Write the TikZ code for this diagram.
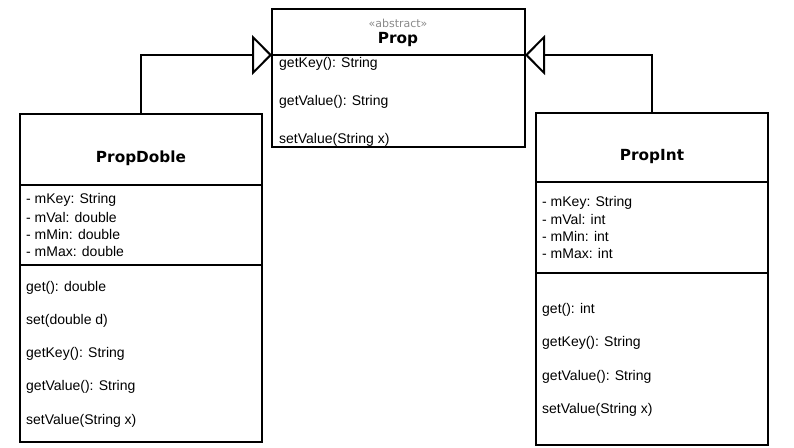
\documentclass[tikz,border=0pt]{standalone}
\usepackage{fontspec}
\setmainfont{Liberation Sans}
\newfontfamily\dvs{DejaVu Sans}
\usetikzlibrary{arrows.meta}
\definecolor{stereo}{HTML}{8A8A8A}
\tikzset{
  box/.style={draw=black, line width=2pt, fill=white, inner sep=0pt, outer sep=0pt, anchor=north west},
  divider/.style={draw=black, line width=2pt},
  txt/.style={inner sep=0pt, anchor=west, font=\fontsize{14}{16}\selectfont},
  title/.style={inner sep=0pt, font=\fontsize{15.3}{18}\selectfont\dvs\bfseries},
  stereotype/.style={inner sep=0pt, text=stereo, font=\fontsize{11}{13}\selectfont\dvs},
  inherit/.style={draw=black, line width=2pt, -{Triangle[open, length=20pt, width=40pt, fill=white]}},
}
\begin{document}
\begin{tikzpicture}[x=1pt, y=1pt]
\useasboundingbox (0,0) rectangle (794,-447);

% Prop (abstract)
\node[box, minimum width=253, minimum height=138] (prop) at (272,-9) {};
\coordinate (pdl) at (272,-55);
\coordinate (pdr) at (525,-55);
\draw[divider] (pdl) -- (pdr);
\node[stereotype] (pst) at (398,-23) {«abstract»};
\node[title] (ptitle) at (398,-40) {Prop};
\node[txt] (pm1) at (279,-63.5) {getKey(): String};
\node[txt] (pm2) at (279,-101.5) {getValue(): String};
\node[txt] (pm3) at (279,-139.5) {setValue(String x)};

% PropDoble
\node[box, minimum width=242, minimum height=328] (dob) at (20,-114) {};
\coordinate (dd1l) at (20,-185);
\coordinate (dd1r) at (262,-185);
\coordinate (dd2l) at (20,-265);
\coordinate (dd2r) at (262,-265);
\draw[divider] (dd1l) -- (dd1r);
\draw[divider] (dd2l) -- (dd2r);
\node[title] (dtitle) at (141,-158) {PropDoble};
\node[txt] (da1) at (26,-200) {- mKey: String};
\node[txt] (da2) at (26,-217) {- mVal: double};
\node[txt] (da3) at (26,-234) {- mMin: double};
\node[txt] (da4) at (26,-251) {- mMax: double};
\node[txt] (dm1) at (26,-288) {get(): double};
\node[txt] (dm2) at (26,-321) {set(double d)};
\node[txt] (dm3) at (26,-354) {getKey(): String};
\node[txt] (dm4) at (26,-387) {getValue(): String};
\node[txt] (dm5) at (26,-421) {setValue(String x)};

% PropInt
\node[box, minimum width=232, minimum height=332] (pint) at (536,-113) {};
\coordinate (di1l) at (536,-182);
\coordinate (di1r) at (768,-182);
\coordinate (di2l) at (536,-273);
\coordinate (di2r) at (768,-273);
\draw[divider] (di1l) -- (di1r);
\draw[divider] (di2l) -- (di2r);
\node[title] (ititle) at (652,-157) {PropInt};
\node[txt] (ia1) at (542,-203) {- mKey: String};
\node[txt] (ia2) at (542,-219) {- mVal: int};
\node[txt] (ia3) at (542,-236) {- mMin: int};
\node[txt] (ia4) at (542,-253) {- mMax: int};
\node[txt] (im1) at (542,-310) {get(): int};
\node[txt] (im2) at (542,-343) {getKey(): String};
\node[txt] (im3) at (542,-377) {getValue(): String};
\node[txt] (im4) at (542,-410) {setValue(String x)};

% Generalisation connectors
\draw[inherit] (dob.north) |- (pdl);
\draw[inherit] (pint.north) |- (pdr);
\end{tikzpicture}
\end{document}
